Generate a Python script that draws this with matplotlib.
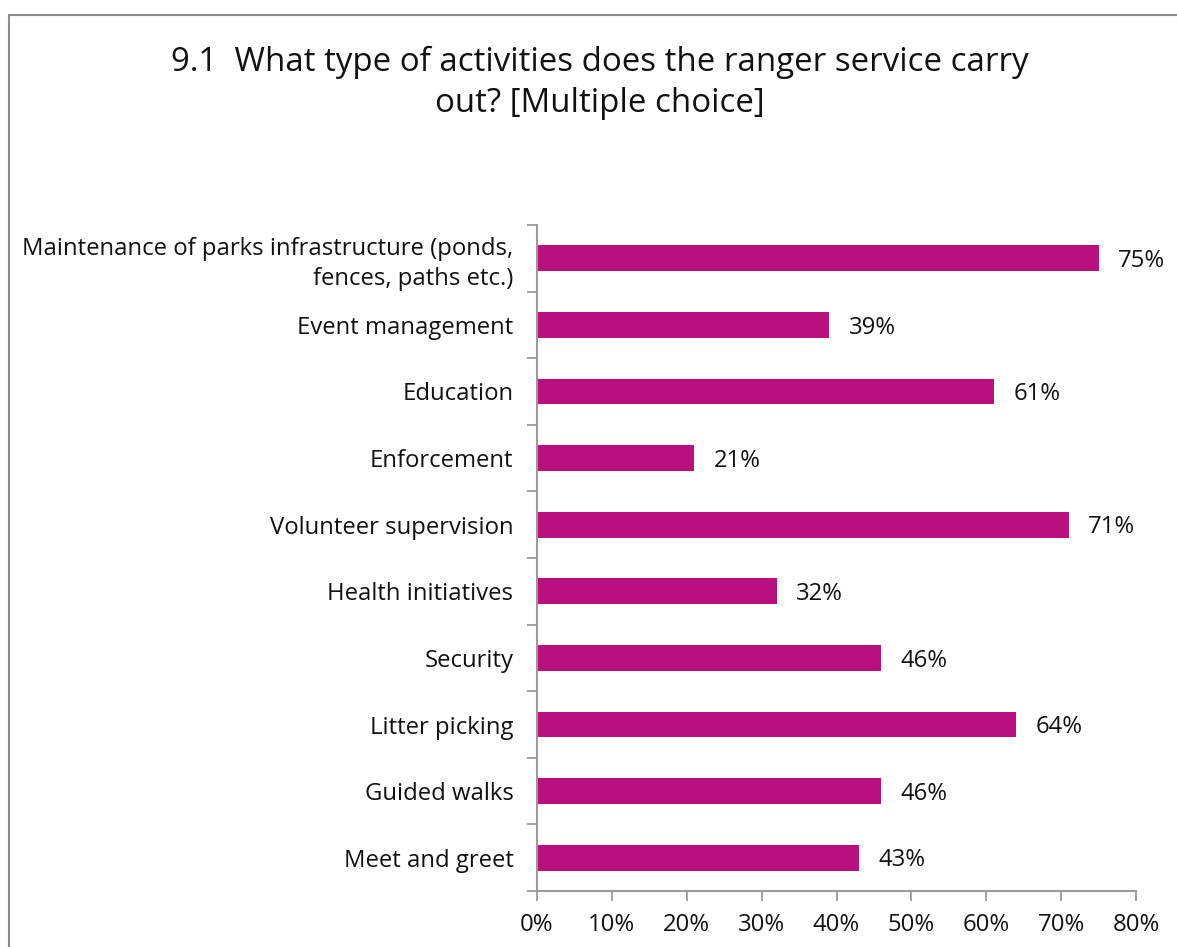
import matplotlib
matplotlib.use("Agg")
import matplotlib.pyplot as plt
from matplotlib.patches import Rectangle
from matplotlib.ticker import FixedLocator, PercentFormatter

plt.rcParams['font.family'] = ['Open Sans', 'DejaVu Sans']

categories = [
    "Maintenance of parks infrastructure (ponds,\nfences, paths etc.)",
    "Event management",
    "Education",
    "Enforcement",
    "Volunteer supervision",
    "Health initiatives",
    "Security",
    "Litter picking",
    "Guided walks",
    "Meet and greet",
]
values = [75, 39, 61, 21, 71, 32, 46, 64, 46, 43]
xticks = [0, 10, 20, 30, 40, 50, 60, 70, 80]

title = "9.1  What type of activities does the ranger service carry\nout? [Multiple choice]"
bar_color = "#BA0F7F"
axis_color = "#9A9A9A"
text_color = "#111111"
fs = 17.2

W, H = 1177, 947
fig = plt.figure(figsize=(W / 100, H / 100), dpi=100)

# chart frame
fig.patches.append(Rectangle((9 / W, -0.1), 1.2, 1 - 15 / H + 0.1,
                             transform=fig.transFigure, fill=False,
                             edgecolor="#8C8C8C", linewidth=1.5))

ax = fig.add_axes([537 / W, (H - 891) / H, (1136 - 537) / W, (891 - 225) / H])

n = len(categories)
ypos = list(range(n))
ax.barh(ypos, values, height=0.39, color=bar_color)
ax.set_ylim(n - 0.5, -0.5)
ax.set_xlim(0, 80)

for y, v in zip(ypos, values):
    ax.text(v + 2.6, y + 0.04, f"{v}%", va="center", ha="left", fontsize=fs, color=text_color)

ax.set_yticks(ypos)
ax.set_yticklabels(categories, fontsize=fs, color=text_color, linespacing=1.3)
ax.tick_params(axis="y", which="major", length=0, pad=17)
ax.yaxis.set_minor_locator(FixedLocator([i - 0.5 for i in range(n + 1)]))
ax.tick_params(axis="y", which="minor", length=7, width=1.3, color=axis_color, direction="out")

ax.xaxis.set_major_locator(FixedLocator(xticks))
ax.xaxis.set_major_formatter(PercentFormatter(decimals=0))
ax.tick_params(axis="x", which="major", length=7, width=1.3, color=axis_color,
               direction="out", labelsize=fs, labelcolor=text_color, pad=9)

for s in ["top", "right"]:
    ax.spines[s].set_visible(False)
for s in ["left", "bottom"]:
    ax.spines[s].set_color(axis_color)
    ax.spines[s].set_linewidth(1.5)

fig.text(600 / W, 1 - 46 / H, title, ha="center", va="top", fontsize=23.8,
         color=text_color, linespacing=1.3)

fig.savefig("out.png", dpi=100)
